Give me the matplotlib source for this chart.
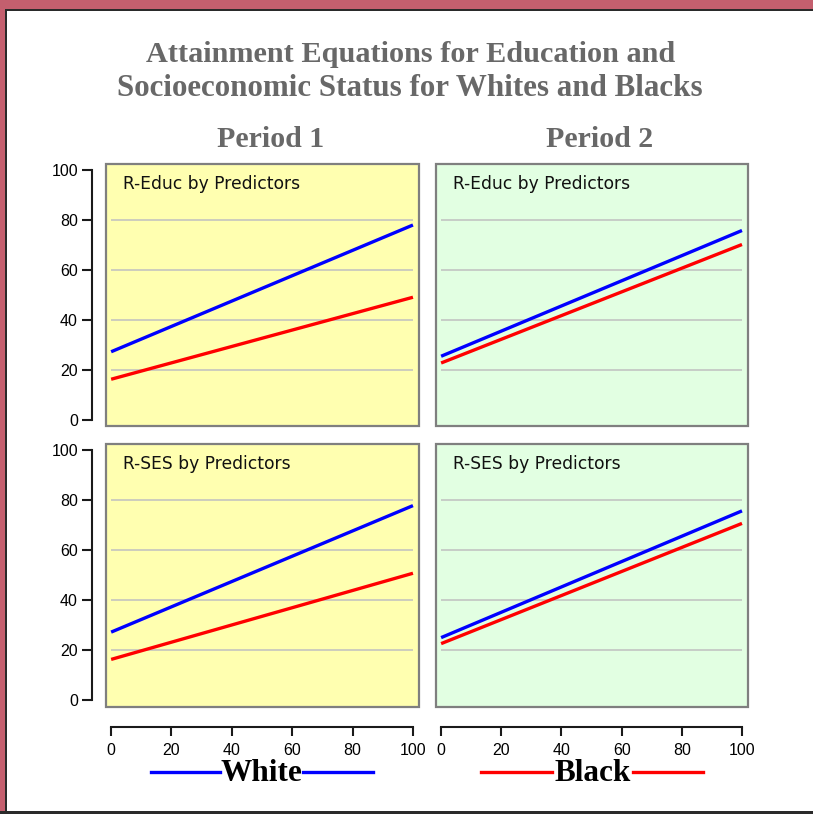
import matplotlib
matplotlib.use("Agg")
import matplotlib.pyplot as plt
from matplotlib.patches import Rectangle
from matplotlib.lines import Line2D

# ---------------- data ----------------
x_vals = [0, 100]
panel_titles = ["R-Educ by Predictors", "R-Educ by Predictors",
                "R-SES by Predictors", "R-SES by Predictors"]
white_p1_educ = [27.3, 78.0]
black_p1_educ = [16.3, 49.1]
white_p2_educ = [25.5, 75.8]
black_p2_educ = [22.8, 70.2]
white_p1_ses = [27.3, 77.8]
black_p1_ses = [16.4, 50.8]
white_p2_ses = [25.1, 75.7]
black_p2_ses = [22.7, 70.7]
y_ticks = [0, 20, 40, 60, 80, 100]
x_ticks = [0, 20, 40, 60, 80, 100]
grid_vals = [20, 40, 60, 80]
period_labels = ["Period 1", "Period 2"]
series_names = ["White", "Black"]
title_lines = ["Attainment Equations for Education and",
               "Socioeconomic Status for Whites and Blacks"]

W, H = 813, 814
fig = plt.figure(figsize=(W / 100, H / 100), dpi=100)
fig.patch.set_facecolor("white")


def fx(px):
    return px / W


def fy(py):
    return 1 - py / H


BLUE = "#0000FF"
RED = "#FF0000"
YELLOW = "#FFFFB0"
GREEN = "#E2FFE2"
FRAME = "#7F7F7F"
GRID = "#C0C0C0"
AXC = "#1a1a1a"

panels = [
    ((105.7, 164, 419, 426), YELLOW, white_p1_educ, black_p1_educ, panel_titles[0], (-2.4, 102.4), True, False),
    ((435.7, 164, 748, 426), GREEN, white_p2_educ, black_p2_educ, panel_titles[1], (-2.4, 102.4), False, False),
    ((105.7, 444, 419, 707), YELLOW, white_p1_ses, black_p1_ses, panel_titles[2], (-2.6, 102.4), True, True),
    ((435.7, 444, 748, 707), GREEN, white_p2_ses, black_p2_ses, panel_titles[3], (-2.6, 102.4), False, True),
]

for (l, t, r, b), bg, wv, bv, ttl, ylim, show_y, show_x in panels:
    ax = fig.add_axes([fx(l), fy(b), (r - l) / W, (b - t) / H])
    ax.set_facecolor(bg)
    ax.set_xlim(-1.8, 102.0)
    ax.set_ylim(*ylim)
    ax.add_patch(Rectangle((0, 0), 1, 1, transform=ax.transAxes, fill=False,
                           edgecolor=FRAME, linewidth=1.6, clip_on=False, zorder=5))
    ax.hlines(grid_vals, 0, 100, colors=GRID, linewidth=1.1, zorder=1)
    ax.plot(x_vals, wv, color=BLUE, linewidth=2.4, zorder=3, solid_capstyle="butt")
    ax.plot(x_vals, bv, color=RED, linewidth=2.4, zorder=3, solid_capstyle="butt")
    ax.text(0.055, 0.925, ttl, transform=ax.transAxes, fontsize=12.3,
            family="DejaVu Sans", color="#111111", ha="left", va="center")
    for s in ["top", "right"]:
        ax.spines[s].set_visible(False)
    if show_y:
        ax.spines["left"].set_position(("outward", 10))
        ax.spines["left"].set_bounds(0, 100)
        ax.spines["left"].set_color(AXC)
        ax.spines["left"].set_linewidth(1.5)
        ax.set_yticks(y_ticks)
        ax.tick_params(axis="y", direction="out", length=7, width=1.5, color=AXC,
                       pad=3, labelsize=11.5)
        for lab in ax.get_yticklabels():
            lab.set_family("Liberation Sans")
    else:
        ax.spines["left"].set_visible(False)
        ax.set_yticks([])
    if show_x:
        ax.spines["bottom"].set_position(("outward", 14.4))
        ax.spines["bottom"].set_bounds(0, 100)
        ax.spines["bottom"].set_color(AXC)
        ax.spines["bottom"].set_linewidth(1.5)
        ax.set_xticks(x_ticks)
        ax.tick_params(axis="x", direction="out", length=6.5, width=1.5, color=AXC,
                       pad=5, labelsize=11.5)
        for lab in ax.get_xticklabels():
            lab.set_family("Liberation Sans")
    else:
        ax.spines["bottom"].set_visible(False)
        ax.set_xticks([])

TITLE_C = "#686868"
fig.text(fx(411), fy(62), title_lines[0], ha="center", va="baseline",
         family="Liberation Serif", weight="bold", fontsize=21.8, color=TITLE_C)
fig.text(fx(410), fy(96), title_lines[1], ha="center", va="baseline",
         family="Liberation Serif", weight="bold", fontsize=22.3, color=TITLE_C)
fig.text(fx(271), fy(147), period_labels[0], ha="center", va="baseline",
         family="Liberation Serif", weight="bold", fontsize=21.5, color=TITLE_C)
fig.text(fx(600), fy(147), period_labels[1], ha="center", va="baseline",
         family="Liberation Serif", weight="bold", fontsize=21.5, color=TITLE_C)

legend_items = [(series_names[0], BLUE, 151, 220, 303, 373),
                (series_names[1], RED, 481, 552, 633, 703)]
for name, col, a1, a2, b1, b2 in legend_items:
    for x1, x2 in [(a1, a2), (b1, b2)]:
        fig.add_artist(Line2D([fx(x1), fx(x2)], [fy(772), fy(772)],
                              transform=fig.transFigure, color=col, linewidth=2.4))
    fig.text(fx((a2 + b1) / 2), fy(781), name, ha="center", va="baseline",
             family="Liberation Serif", weight="bold", fontsize=22.5, color="black")

PINK = "#C45F6E"
fig.add_artist(Rectangle((0, fy(9)), 1, 9 / H, transform=fig.transFigure,
                         facecolor=PINK, edgecolor="none"))
fig.add_artist(Rectangle((0, fy(11)), 1, 2 / H, transform=fig.transFigure,
                         facecolor="#2a2a2a", edgecolor="none"))
fig.add_artist(Rectangle((0, 0), fx(5), 1, transform=fig.transFigure,
                         facecolor=PINK, edgecolor="none"))
fig.add_artist(Rectangle((fx(5), 0), fx(2), fy(9), transform=fig.transFigure,
                         facecolor="#2a2a2a", edgecolor="none"))
fig.add_artist(Rectangle((0, 0), 1, 3 / H, transform=fig.transFigure,
                         facecolor="#2a2a2a", edgecolor="none"))

fig.savefig("out.png", dpi=100)
